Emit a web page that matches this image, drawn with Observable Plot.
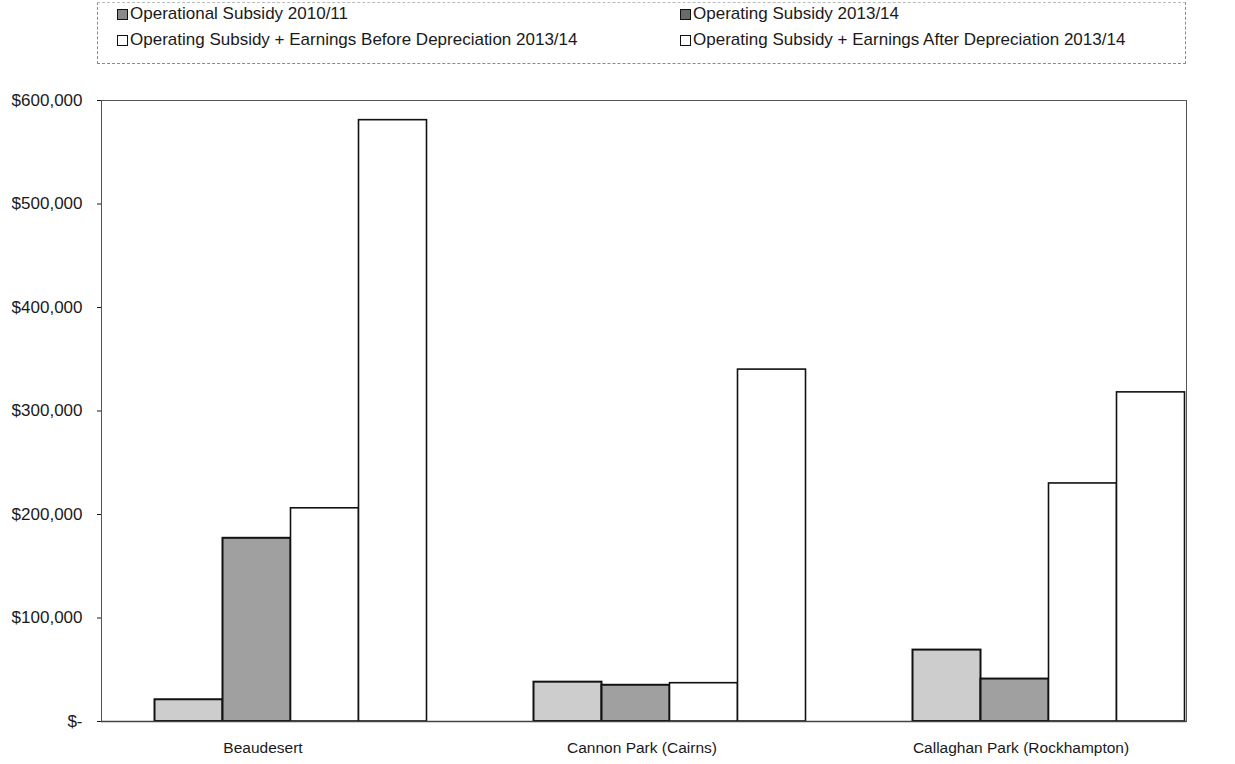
<!DOCTYPE html>
<html>
<head>
<meta charset="utf-8">
<script src="https://cdn.jsdelivr.net/npm/d3@7"></script>
<script src="https://cdn.jsdelivr.net/npm/@observablehq/plot@0.6"></script>
<style>
  html, body { margin: 0; padding: 0; background: #fff; }
  body { width: 1235px; height: 764px; overflow: hidden; font-family: "Liberation Sans", Arial, sans-serif; color: #1a1a1a; }
  #legend { position: relative; width: 1235px; height: 90px; }
  #legend .box { position: absolute; left: 97px; top: 2px; width: 1087px; height: 60px; border: 1px dashed #8a8a8a; border-top-color: #bbb; }
  #legend .item { position: absolute; font-size: 17px; line-height: 18px; white-space: nowrap; display: flex; align-items: center; }
  #legend .sw { width: 9px; height: 9px; border: 1px solid #111; margin-right: 2px; display: inline-block; }
  #chart svg { display: block; overflow: visible; }
  #chart g[aria-label="x-axis"], #chart g[aria-label="x-axis tick label"] { font-size: 15.5px; }
  #chart g[aria-label="y-axis"], #chart g[aria-label="y-axis tick label"] { font-size: 17px; }
  #chart g[aria-label="y-axis"] path.domain { stroke-width: 2; }
</style>
</head>
<body>
<div id="legend"><div class="box"></div></div>
<div id="chart"></div>
<script>
// ---- data ----
const categories = ["Beaudesert", "Cannon Park (Cairns)", "Callaghan Park (Rockhampton)"];
const seriesNames = [
  "Operational Subsidy 2010/11",
  "Operating Subsidy 2013/14",
  "Operating Subsidy + Earnings Before Depreciation 2013/14",
  "Operating Subsidy + Earnings After Depreciation 2013/14"
];
const subsidy2010 = [21000, 38000, 69000];
const subsidy2013 = [177000, 35000, 41000];
const beforeDep2013 = [206000, 37000, 230000];
const afterDep2013 = [581000, 340000, 318000];
const yTicks = [0, 100000, 200000, 300000, 400000, 500000, 600000];

// ---- styling ----
const seriesValues = [subsidy2010, subsidy2013, beforeDep2013, afterDep2013];
const fills = ["#cdcdcd", "#a0a0a0", "#ffffff", "#ffffff"];
const swatchFills = ["#8a8a8a", "#6a6a6a", "#ffffff", "#ffffff"];

// legend
const legend = document.querySelector("#legend");
const legendPos = [[117, 5], [680, 5], [117, 31], [680, 31]];
seriesNames.forEach((name, i) => {
  const el = document.createElement("div");
  el.className = "item";
  el.style.left = legendPos[i][0] + "px";
  el.style.top = legendPos[i][1] + "px";
  const sw = document.createElement("span");
  sw.className = "sw";
  sw.style.background = swatchFills[i];
  el.appendChild(sw);
  el.appendChild(document.createTextNode(name));
  legend.appendChild(el);
});

// chart
const W = 1235, H = 674;
const xRange = [101, 1238];
const bw = (xRange[1] - xRange[0]) / categories.length;
const barW = 68;
const pad = (bw - barW * seriesNames.length) / 2;

const barMarks = seriesValues.map((vals, i) =>
  Plot.barY(categories.map((c, j) => ({category: c, value: vals[j]})), {
    x: "category",
    y: "value",
    fill: fills[i],
    stroke: "#111",
    strokeWidth: i < 2 ? 2 : 1.6,
    insetLeft: pad + i * barW,
    insetRight: bw - pad - (i + 1) * barW
  })
);

const chart = Plot.plot({
  width: W,
  height: H,
  marginTop: 10,
  marginLeft: 101,
  marginRight: 49,
  marginBottom: 43,
  style: {fontFamily: '"Liberation Sans", Arial, sans-serif', color: "#1a1a1a", background: "transparent"},
  x: {domain: categories, range: xRange, padding: 0, tickSize: 0, tickPadding: 20, label: null},
  y: {domain: [0, 600000], ticks: yTicks, tickFormat: d => d === 0 ? "$-" : "$" + d3.format(",")(d), tickSize: 4, tickPadding: 15, label: null, line: true},
  marks: [
    Plot.frame({stroke: "#555", strokeWidth: 1}),
    ...barMarks,
    Plot.ruleY([0], {stroke: "#444", strokeWidth: 1.5})
  ]
});
document.querySelector("#chart").appendChild(chart);

// the scanned original prints the category labels somewhat left of the bar groups
d3.select(chart).selectAll('g[aria-label^="x-axis"] text').each(function() {
  const t = d3.select(this);
  const dx = parseFloat(t.attr("dx")) || 0;
  t.attr("dx", dx - 28);
});
</script>
</body>
</html>
